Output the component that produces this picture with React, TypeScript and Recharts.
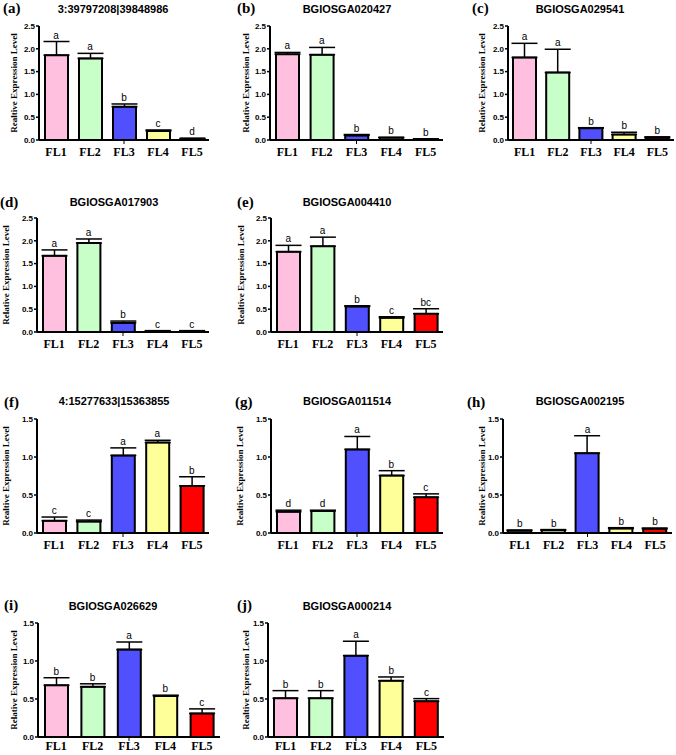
import React from 'react';
import { ComposedChart, Bar, Line, XAxis, YAxis, ErrorBar, Cell, LabelList } from 'recharts';

const categories = ['FL1', 'FL2', 'FL3', 'FL4', 'FL5'];
const barColors = ['#FFC0E0', '#C8FFC8', '#5050FF', '#FFFF99', '#FF0000'];
const ticksHigh = [0, 0.5, 1.0, 1.5, 2.0, 2.5];
const ticksLow = [0, 0.5, 1.0, 1.5];

const aMean = [1.86, 1.79, 0.73, 0.20, 0.03];
const aTop = [2.16, 1.90, 0.79, 0.22, 0.035];
const aLetters = ['a', 'a', 'b', 'c', 'd'];

const bMean = [1.88, 1.87, 0.10, 0.05, 0.02];
const bTop = [1.92, 2.03, 0.12, 0.06, 0.025];
const bLetters = ['a', 'a', 'b', 'b', 'b'];

const cMean = [1.81, 1.48, 0.26, 0.12, 0.05];
const cTop = [2.12, 1.99, 0.27, 0.17, 0.07];
const cLetters = ['a', 'a', 'b', 'b', 'b'];

const dMean = [1.67, 1.95, 0.20, 0.02, 0.02];
const dTop = [1.80, 2.04, 0.24, 0.03, 0.03];
const dLetters = ['a', 'a', 'b', 'c', 'c'];

const eMean = [1.76, 1.88, 0.56, 0.31, 0.40];
const eTop = [1.90, 2.08, 0.575, 0.335, 0.51];
const eLetters = ['a', 'a', 'b', 'c', 'bc'];

const fMean = [0.16, 0.15, 1.02, 1.19, 0.62];
const fTop = [0.21, 0.17, 1.12, 1.22, 0.74];
const fLetters = ['c', 'c', 'a', 'a', 'b'];

const gMean = [0.28, 0.29, 1.10, 0.755, 0.47];
const gTop = [0.30, 0.30, 1.27, 0.82, 0.515];
const gLetters = ['d', 'd', 'a', 'b', 'c'];

const hMean = [0.03, 0.035, 1.05, 0.06, 0.055];
const hTop = [0.04, 0.045, 1.28, 0.07, 0.065];
const hLetters = ['b', 'b', 'a', 'b', 'b'];

const iMean = [0.68, 0.66, 1.15, 0.54, 0.31];
const iTop = [0.78, 0.70, 1.25, 0.55, 0.37];
const iLetters = ['b', 'b', 'a', 'b', 'c'];

const jMean = [0.51, 0.51, 1.07, 0.74, 0.47];
const jTop = [0.61, 0.61, 1.26, 0.79, 0.505];
const jLetters = ['b', 'b', 'a', 'b', 'c'];

const panelIds = ['(a)', '(b)', '(c)', '(d)', '(e)', '(f)', '(g)', '(h)', '(i)', '(j)'];
const panelTitles = ['3:39797208|39848986', 'BGIOSGA020427', 'BGIOSGA029541', 'BGIOSGA017903', 'BGIOSGA004410',
  '4:15277633|15363855', 'BGIOSGA011514', 'BGIOSGA002195', 'BGIOSGA026629', 'BGIOSGA000214'];
const yTitles = ['Realtive Expression Level', 'Relative Expression Level', 'Relative Expression Level',
  'Relative Expression Level', 'Realtive Expression Level', 'Realtive Expression Level', 'Realtive Expression Level',
  'Realtive Expression Level', 'Relative Expression Level', 'Realtive Expression Level'];

const panelSeries = [
  [aMean, aTop, aLetters], [bMean, bTop, bLetters], [cMean, cTop, cLetters],
  [dMean, dTop, dLetters], [eMean, eTop, eLetters],
  [fMean, fTop, fLetters], [gMean, gTop, gLetters], [hMean, hTop, hLetters],
  [iMean, iTop, iLetters], [jMean, jTop, jLetters],
];
const panelTicks = [ticksHigh, ticksHigh, ticksHigh, ticksHigh, ticksHigh, ticksLow, ticksLow, ticksLow, ticksLow, ticksLow];

// layout: axisX, rightX, topY, botY, idX, idY, titleCX, titleY, yTitleX, xLabelOffset
const layout = [
  [39, 209, 26, 140, 3, 13, 113, 13, 13.5, 16],
  [270, 443, 26, 140, 237, 13, 347, 13, 246, 16],
  [508, 674, 26, 140, 472, 13, 580, 13, 482, 16],
  [37, 209, 218, 332, 0, 207, 114, 206, 6, 16],
  [271, 443, 218, 332, 237, 207, 347, 206, 241, 16],
  [37, 209, 419, 533, 4, 407, 114, 405, 6, 16],
  [271, 443, 419, 533, 235, 407, 347, 405, 240, 16],
  [503, 672, 419, 533, 467, 407, 580, 405, 482, 16],
  [38, 220, 623, 737, 4, 610, 113, 610, 13.5, 13],
  [268, 444, 623, 737, 237, 610, 347, 610, 246, 13],
];

const makeXTick = (off: number) => (props: any) => {
  const { x, y, payload } = props;
  return (
    <g>
      {payload.value === 'FL3' && <line x1={x} x2={x} y1={y} y2={y + 4} stroke="#000" strokeWidth={1} />}
      <text x={x} y={y + off} textAnchor="middle" fontFamily="Liberation Serif" fontWeight="bold" fontSize={12} fill="#000">
        {payload.value}
      </text>
    </g>
  );
};

const Panel = ({ idx }: { idx: number }) => {
  const [means, tops, letters] = panelSeries[idx] as any;
  const ticks = panelTicks[idx];
  const [axisX, rightX, topY, botY, , , , , , xOff] = layout[idx];
  const data = categories.map((c, i) => ({
    cat: c,
    mean: means[i],
    err: [0, tops[i] - means[i]],
    top: tops[i],
    letter: letters[i],
  }));
  const yW = 30;
  const mTop = 8;
  const xH = 20;
  const left = axisX - yW;
  const top = topY - mTop;
  const W = rightX - left + 4;
  const H = mTop + (botY - topY) + xH;
  const XTick = makeXTick(xOff);
  return (
    <div style={{ position: 'absolute', left, top, width: W, height: H }}>
      <ComposedChart width={W} height={H} data={data} margin={{ top: mTop, right: 4, bottom: 0, left: 0 }}>
        <XAxis dataKey="cat" height={xH} tickSize={0} tickMargin={0} tickLine={false}
          axisLine={{ stroke: '#000', strokeWidth: 2 }} tick={<XTick />} interval={0} />
        <YAxis type="number" domain={[0, ticks[ticks.length - 1]]} ticks={ticks} width={yW}
          tickFormatter={(v: number) => v.toFixed(1)} tickSize={3} tickMargin={1}
          axisLine={{ stroke: '#000', strokeWidth: 2 }} tickLine={{ stroke: '#000', strokeWidth: 1.5 }}
          tick={{ fill: '#000', fontSize: 8, fontWeight: 'bold', fontFamily: 'Liberation Sans' }} interval={0} />
        <Bar dataKey="mean" barSize={23} stroke="#000" strokeWidth={2} isAnimationActive={false}>
          {data.map((d, i) => <Cell key={d.cat} fill={barColors[i]} />)}
          <ErrorBar dataKey="err" width={13} stroke="#000" strokeWidth={1.5} direction="y" />
        </Bar>
        <Line dataKey="top" stroke="none" dot={false} activeDot={false} isAnimationActive={false} legendType="none">
          <LabelList dataKey="letter" position="top" offset={3} fill="#000" fontSize={10} fontFamily="Liberation Sans" />
        </Line>
      </ComposedChart>
    </div>
  );
};

export default function App() {
  return (
    <div style={{ position: 'absolute', left: 0, top: 0, width: 676, height: 755, background: '#fff', overflow: 'hidden' }}>
      {panelIds.map((_, i) => <Panel key={i} idx={i} />)}
      <svg width={676} height={755} style={{ position: 'absolute', left: 0, top: 0, pointerEvents: 'none' }}>
        {panelIds.map((id, i) => {
          const [, , topY, botY, idX, idY, tcx, ty, ytx] = layout[i];
          const cy = (topY + botY) / 2;
          return (
            <g key={id}>
              <text x={idX} y={idY} fontFamily="Liberation Serif" fontWeight="bold" fontSize={15} fill="#000">{id}</text>
              <text x={tcx} y={ty} textAnchor="middle" fontFamily="Liberation Sans" fontWeight="bold" fontSize={11} fill="#000">{panelTitles[i]}</text>
              <text transform={`translate(${ytx}, ${cy}) rotate(-90)`} textAnchor="middle" dominantBaseline="central"
                fontFamily="Liberation Serif" fontWeight="bold" fontSize={9} fill="#000">{yTitles[i]}</text>
            </g>
          );
        })}
      </svg>
    </div>
  );
}
